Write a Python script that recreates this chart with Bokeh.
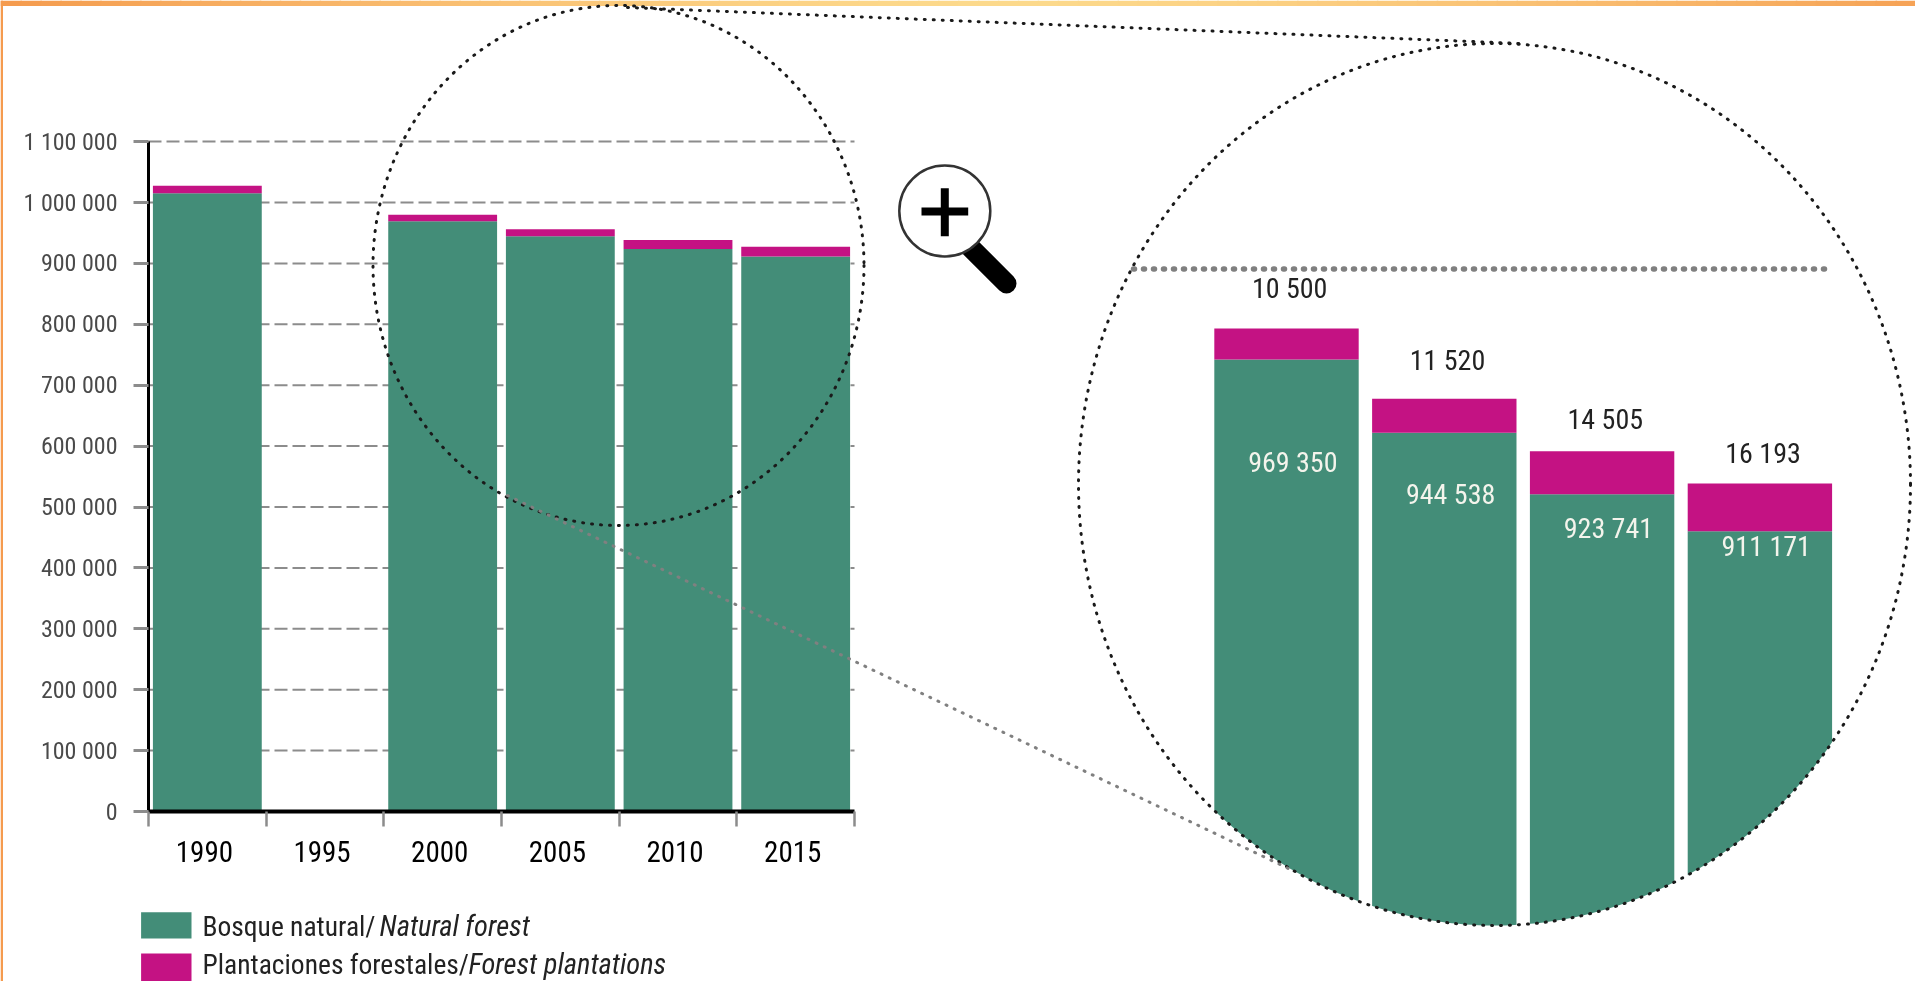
import numpy as np
from bokeh.core.properties import value
from bokeh.embed import file_html
from bokeh.models import FixedTicker, LinearAxis, Range1d
from bokeh.plotting import figure
from bokeh.resources import INLINE

# ---- data ----
years = ["1990", "1995", "2000", "2005", "2010", "2015"]
natural = [1015000, float("nan"), 969350, 944538, 923741, 911171]
plantations = [12500, float("nan"), 10500, 11520, 14505, 16193]
y_ticks = [0, 100000, 200000, 300000, 400000, 500000, 600000, 700000, 800000, 900000, 1000000, 1100000]
y_labels = ["0", "100 000", "200 000", "300 000", "400 000", "500 000", "600 000", "700 000", "800 000",
            "900 000", "1 000 000", "1 100 000"]
inset_years = ["2000", "2005", "2010", "2015"]
inset_natural = [969350, 944538, 923741, 911171]
inset_plantations = [10500, 11520, 14505, 16193]
inset_natural_labels = ["969 350", "944 538", "923 741", "911 171"]
inset_plantation_labels = ["10 500", "11 520", "14 505", "16 193"]
legend_es = ["Bosque natural/", "Plantaciones forestales/"]
legend_en = ["Natural forest", "Forest plantations"]

GREEN = "#438D78"
MAGENTA = "#C41283"
GREY = "#8C8C8C"
FONT = "Roboto Condensed"
W, H = 1915, 981

# ---- layout: the frame fills the page, each scale is anchored by its pixel extent ----
X0, X1 = 148, 854
Y0, Y1 = 811, 141.1
ppx = (X1 - X0) / len(years)
ppy = (Y0 - Y1) / max(y_ticks)

p = figure(width=W, height=H, output_backend="svg", toolbar_location=None,
           x_axis_location=None, y_axis_location=None,
           x_range=Range1d(-X0 / ppx, (W - X0) / ppx),
           y_range=Range1d(-(H - Y0) / ppy, Y0 / ppy),
           min_border=0, outline_line_color=None, background_fill_color="white", border_fill_color="white")
p.grid.visible = False
p.styles = {"position": "fixed", "left": "0", "top": "0"}

# inset scales
IN_STEP = 157.8
IN_C0 = 1286
IN_PPY = 0.002953
IN_TOP_PX = 328
total0 = inset_natural[0] + inset_plantations[0]
p.extra_x_ranges["inset"] = Range1d(-IN_C0 / IN_STEP, (W - IN_C0) / IN_STEP)
p.extra_y_ranges["inset"] = Range1d(total0 - (H - IN_TOP_PX) / IN_PPY, total0 + IN_TOP_PX / IN_PPY)
# page-pixel scales for decorations
p.extra_x_ranges["px"] = Range1d(0, W)
p.extra_y_ranges["px"] = Range1d(H, 0)
PX = dict(x_range_name="px", y_range_name="px")
INS = dict(x_range_name="inset", y_range_name="inset")

# top band and left edge
N = 96
edges = np.linspace(0, W, N + 1)
c_end, c_mid = np.array([245, 155, 78]), np.array([253, 218, 140])
cols = []
for i in range(N):
    t = abs((edges[i] + edges[i + 1]) / 2 - 1000) / 1000
    t = min(t, 1) ** 1.4
    cols.append("#%02x%02x%02x" % tuple(int(v) for v in c_mid + (c_end - c_mid) * t))
p.quad(left=edges[:-1], right=edges[1:] + 1.5, top=[0] * N, bottom=[5.5] * N, fill_color=cols, line_color=None, **PX)
p.quad(left=[0], right=[2.5], top=[0], bottom=[H], fill_color="#F59B4E", line_color=None, **PX)

# gridlines
grid_vals = [v for v in y_ticks if v > 0]
p.segment(x0=[0] * len(grid_vals), x1=[len(years)] * len(grid_vals), y0=grid_vals, y1=grid_vals,
          line_color=GREY, line_width=2, line_dash="13 5", level="underlay")

# main stacked bars
centers = np.arange(len(years)) + 0.5
nat = np.array(natural)
pla = np.array(plantations)
BAR_W = 0.925
p.vbar(x=centers, width=BAR_W, bottom=0, top=nat, fill_color=GREEN, line_color=None)
p.vbar(x=centers, width=BAR_W, bottom=nat, top=nat + pla, fill_color=MAGENTA, line_color=None)

# axes
yax = LinearAxis(fixed_location=0, bounds=(0, max(y_ticks)), ticker=FixedTicker(ticks=y_ticks),
                 major_label_overrides=dict(zip(y_ticks, y_labels)),
                 axis_line_color="black", axis_line_width=3,
                 major_tick_in=0, major_tick_out=15, major_tick_line_color=GREY, major_tick_line_width=3,
                 minor_tick_line_color=None, major_label_standoff=16,
                 major_label_text_font=FONT, major_label_text_font_size="24px", major_label_text_color="#4a4a4a")
p.add_layout(yax, "left")
label_pos = [float(c) - 0.025 for c in centers]
xax = LinearAxis(fixed_location=0, bounds=(0, len(years)),
                 ticker=FixedTicker(ticks=label_pos, minor_ticks=list(range(len(years) + 1))),
                 major_label_overrides=dict(zip(label_pos, years)),
                 axis_line_color="black", axis_line_width=4,
                 major_tick_line_color=None, major_tick_in=0, major_tick_out=0,
                 minor_tick_in=0, minor_tick_out=15, minor_tick_line_color=GREY, minor_tick_line_width=2.5,
                 major_label_standoff=14,
                 major_label_text_font=FONT, major_label_text_font_size="29px", major_label_text_color="#000000")
p.add_layout(xax, "below")

# legend
p.quad(left=[140.6, 140.6], right=[191, 191], top=[911.7, 953], bottom=[938, 985],
       fill_color=[GREEN, MAGENTA], line_color=None, **PX)
p.text(x=[202, 202], y=[925.7, 964], text=legend_es, text_font=value(FONT), text_font_size="27.5px",
       text_color="#222222", text_baseline="middle", **PX)
p.text(x=[379, 468], y=[925.7, 964], text=legend_en, text_font=value(FONT), text_font_size="28.5px",
       text_font_style="italic", text_color="#222222", text_baseline="middle", **PX)

# inset stacked bars
ix = np.arange(len(inset_years))
inat = np.array(inset_natural)
ipla = np.array(inset_plantations)
ibase = total0 - (H - IN_TOP_PX) / IN_PPY
p.vbar(x=ix, width=0.915, bottom=ibase, top=inat, fill_color=GREEN, line_color=None, **INS)
p.vbar(x=ix, width=0.915, bottom=inat, top=inat + ipla, fill_color=MAGENTA, line_color=None, **INS)

# big circle geometry and mask below it
CX, CY, RX, RY = 1494, 484, 416, 441
th = np.linspace(np.pi, 0, 200)
mx = list(CX + RX * np.cos(th)) + [W, W, 1075, 1075]
my = list(CY + RY * np.sin(th)) + [CY, H, H, CY]
p.patch(x=mx, y=my, fill_color="white", line_color=None, **PX)

# inset labels
p.text(x=ix + 0.02, y=inat + ipla, text=inset_plantation_labels, y_offset=[-40, -38, -32, -30],
       text_font=value(FONT), text_font_size="28px", text_color="#222222",
       text_align="center", text_baseline="middle", **INS)
p.text(x=ix + 0.04, y=inat, text=inset_natural_labels, y_offset=[103, 62, 34, 15],
       text_font=value(FONT), text_font_size="28px", text_color="#F4F4EC",
       text_align="center", text_baseline="middle", **INS)

# lens circles and connecting lines
DOT = dict(line_cap="round")
p.ellipse(x=[618], y=[265], width=[491], height=[520], fill_color=None, line_color="#1a1a1a",
          line_width=3, line_dash="1 8", **DOT, **PX)
p.ellipse(x=[CX], y=[CY], width=[2 * RX], height=[2 * RY], fill_color=None, line_color="#1a1a1a",
          line_width=3, line_dash="1 8", **DOT, **PX)
p.line(x=[627, 1520], y=[7, 43], line_color="#1a1a1a", line_width=3, line_dash="1 8", **DOT, **PX)
p.line(x=[507, 1290], y=[495, 869], line_color="#808080", line_width=3, line_dash="1 8", **DOT, **PX)
p.line(x=[1133, 1833], y=[268.5, 268.5], line_color="#808080", line_width=5.5, line_dash="1 9", **DOT, **PX)

# magnifier icon
p.line(x=[960, 1006], y=[237, 283], line_color="black", line_width=20, line_cap="round", **PX)
p.ellipse(x=[944.3], y=[210.5], width=[91], height=[91], fill_color="white", line_color="#333333", line_width=2.5, **PX)
p.line(x=[921, 967.7], y=[211, 211], line_color="black", line_width=8, **PX)
p.line(x=[944.3, 944.3], y=[187.7, 235.7], line_color="black", line_width=8, **PX)

open("out.html", "w").write(file_html(p, INLINE))
